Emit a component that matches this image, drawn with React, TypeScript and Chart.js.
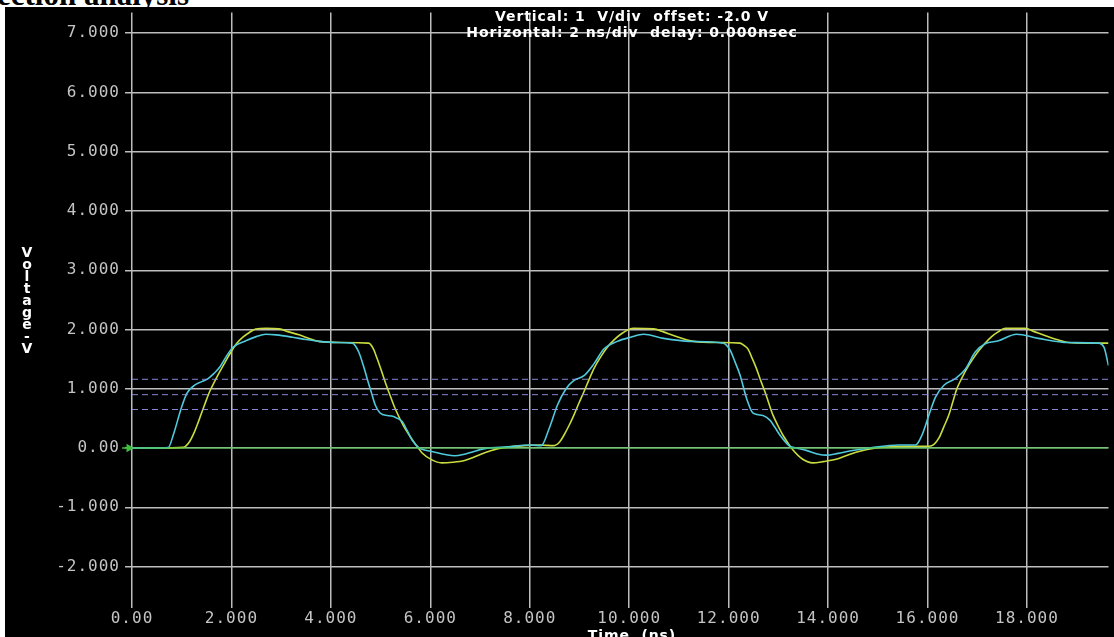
import React, { useEffect, useRef } from "react";
import { Chart, registerables } from "chart.js";

Chart.register(...registerables);

// axis ranges and ticks
const xMin = 0;
const xMax = 19.64;
const yMin = -2.7;
const yMax = 7.35;
const xTicks = [0, 2, 4, 6, 8, 10, 12, 14, 16, 18];
const xTickLabels = ["0.00", "2.000", "4.000", "6.000", "8.000", "10.000", "12.000", "14.000", "16.000", "18.000"];
const yTicks = [-2, -1, 0, 1, 2, 3, 4, 5, 6, 7];
const yTickLabels = ["-2.000", "-1.000", "0.00", "1.000", "2.000", "3.000", "4.000", "5.000", "6.000", "7.000"];

// threshold markers (dashed) and ground reference
const thresholdLevels = [1.16, 0.9, 0.65];
const groundLevel = 0;

// traces: [time ns, volts]
const cyanTrace: [number, number][] = [
  [0, 0], [0.4, 0], [0.73, 0.01], [0.83, 0.22], [0.99, 0.67], [1.1, 0.92], [1.26, 1.06], [1.4, 1.12],
  [1.53, 1.17], [1.65, 1.26], [1.77, 1.37], [1.9, 1.55], [2.03, 1.7], [2.29, 1.81], [2.5, 1.88],
  [2.69, 1.92], [2.9, 1.91], [3.23, 1.87], [3.5, 1.83], [3.76, 1.8], [4.1, 1.78], [4.43, 1.77],
  [4.56, 1.62], [4.65, 1.4], [4.73, 1.17], [4.81, 0.95], [4.89, 0.73], [4.98, 0.6], [5.06, 0.56],
  [5.26, 0.53], [5.43, 0.45], [5.53, 0.3], [5.63, 0.14], [5.76, 0.01], [5.83, -0.02], [6.09, -0.07],
  [6.3, -0.11], [6.49, -0.13], [6.66, -0.11], [6.83, -0.07], [7.09, -0.01], [7.56, 0.02], [8.03, 0.05],
  [8.23, 0.04], [8.39, 0.33], [8.56, 0.73], [8.73, 1.0], [8.89, 1.14], [9.09, 1.22], [9.29, 1.42],
  [9.49, 1.67], [9.76, 1.8], [10.03, 1.87], [10.29, 1.92], [10.69, 1.85], [11.23, 1.8], [11.89, 1.77],
  [12.03, 1.65], [12.13, 1.45], [12.23, 1.23], [12.36, 0.84], [12.49, 0.59], [12.69, 0.55],
  [12.83, 0.47], [12.93, 0.35], [13.03, 0.22], [13.23, 0.03], [13.36, 0.0], [13.56, -0.04],
  [13.83, -0.11], [13.96, -0.12], [14.2, -0.09], [14.43, -0.05], [14.83, 0.0], [15.43, 0.05],
  [15.76, 0.05], [15.89, 0.22], [16.03, 0.56], [16.16, 0.86], [16.33, 1.06], [16.56, 1.17],
  [16.76, 1.33], [16.96, 1.62], [17.16, 1.76], [17.43, 1.81], [17.79, 1.92], [18.23, 1.85],
  [18.83, 1.78], [19.43, 1.77], [19.55, 1.7], [19.64, 1.39],
];

const yellowTrace: [number, number][] = [
  [0, 0], [0.5, 0], [1.03, 0.01], [1.16, 0.11], [1.26, 0.28], [1.36, 0.5], [1.46, 0.73], [1.56, 0.95],
  [1.66, 1.12], [1.76, 1.28], [1.88, 1.46], [1.99, 1.62], [2.1, 1.76], [2.23, 1.87], [2.36, 1.95],
  [2.49, 2.01], [2.7, 2.02], [2.96, 2.01], [3.15, 1.96], [3.36, 1.91], [3.56, 1.85], [3.76, 1.8],
  [4.2, 1.78], [4.76, 1.77], [4.85, 1.68], [4.93, 1.51], [5.01, 1.32], [5.09, 1.12], [5.19, 0.89],
  [5.29, 0.67], [5.39, 0.49], [5.49, 0.33], [5.63, 0.15], [5.76, 0.0], [5.83, -0.08], [6.03, -0.2],
  [6.23, -0.25], [6.45, -0.24], [6.69, -0.21], [6.86, -0.16], [7.03, -0.1], [7.2, -0.05], [7.36, -0.01],
  [7.89, 0.04], [8.2, 0.05], [8.49, 0.04], [8.6, 0.1], [8.69, 0.22], [8.79, 0.38], [8.89, 0.56],
  [8.99, 0.76], [9.09, 0.95], [9.19, 1.15], [9.29, 1.34], [9.42, 1.53], [9.56, 1.7], [9.69, 1.82],
  [9.83, 1.92], [10.09, 2.02], [10.49, 2.01], [10.69, 1.96], [10.89, 1.9], [11.29, 1.8], [11.8, 1.78],
  [12.23, 1.77], [12.31, 1.73], [12.39, 1.67], [12.47, 1.52], [12.56, 1.34], [12.64, 1.15],
  [12.73, 0.95], [12.81, 0.75], [12.89, 0.56], [12.99, 0.38], [13.09, 0.22], [13.19, 0.09],
  [13.29, -0.03], [13.49, -0.19], [13.69, -0.25], [13.9, -0.23], [14.16, -0.19], [14.36, -0.13],
  [14.56, -0.07], [14.96, 0.0], [15.63, 0.03], [16.03, 0.03], [16.13, 0.06], [16.23, 0.17],
  [16.33, 0.36], [16.43, 0.56], [16.51, 0.78], [16.59, 1.0], [16.69, 1.18], [16.79, 1.34],
  [16.91, 1.5], [17.03, 1.64], [17.16, 1.77], [17.29, 1.88], [17.42, 1.96], [17.56, 2.02],
  [17.96, 2.02], [18.16, 1.96], [18.36, 1.9], [18.6, 1.83], [18.83, 1.78], [19.2, 1.77], [19.64, 1.77],
];

// small arrow on the ground level, just left of the axis
const groundArrow: [number, number][] = [[-0.2, 0], [-0.06, 0]];

const CYAN = "#4fc9dc";
const YELLOW = "#c9dc3e";
const GREEN = "#3cbf3c";
const GRID = "#bdbdbd";
const TICK = "#c4c4c4";

const toPoints = (pairs: [number, number][]) => pairs.map(([x, y]) => ({ x, y }));

const tickSpacing = {
  id: "tickSpacing",
  beforeDraw(chart: any) {
    chart.ctx.letterSpacing = "1px";
  },
  afterDraw(chart: any) {
    chart.ctx.letterSpacing = "0px";
  },
};

const ScopeChart: React.FC = () => {
  const canvasRef = useRef<HTMLCanvasElement | null>(null);
  const chartRef = useRef<Chart | null>(null);

  useEffect(() => {
    if (!canvasRef.current) return;
    if (chartRef.current) chartRef.current.destroy();

    const thresholdSets = thresholdLevels.map((level) => ({
      data: [{ x: xMin, y: level }, { x: xMax, y: level }],
      borderColor: "rgba(150,150,235,0.9)",
      borderWidth: 1,
      borderDash: [6, 4],
      pointRadius: 0,
      showLine: true,
    }));

    chartRef.current = new Chart(canvasRef.current, {
      type: "scatter",
      data: {
        datasets: [
          {
            data: [{ x: xMin, y: groundLevel }, { x: xMax, y: groundLevel }],
            borderColor: GREEN,
            borderWidth: 1.2,
            pointRadius: 0,
            showLine: true,
          },
          ...thresholdSets,
          {
            data: toPoints(cyanTrace),
            borderColor: CYAN,
            borderWidth: 1.6,
            pointRadius: 0,
            showLine: true,
            cubicInterpolationMode: "monotone",
          },
          {
            data: toPoints(yellowTrace),
            borderColor: YELLOW,
            borderWidth: 1.6,
            pointRadius: 0,
            showLine: true,
            cubicInterpolationMode: "monotone",
          },
          {
            data: toPoints(groundArrow),
            borderColor: GREEN,
            backgroundColor: GREEN,
            borderWidth: 1.5,
            showLine: true,
            clip: false,
            pointRadius: [0, 3.5],
            pointStyle: "triangle",
            rotation: 90,
          },
        ] as any,
      },
      options: {
        animation: false,
        responsive: true,
        maintainAspectRatio: false,
        events: [],
        layout: { padding: 0 },
        plugins: {
          legend: { display: false },
          tooltip: { enabled: false },
        },
        scales: {
          x: {
            type: "linear",
            min: xMin,
            max: xMax,
            afterBuildTicks: (scale: any) => {
              scale.ticks = xTicks.map((value) => ({ value }));
            },
            afterFit: (scale: any) => {
              scale.height = 29;
              scale.paddingLeft = 0;
              scale.paddingRight = 0;
            },
            ticks: {
              callback: (value: any) => xTickLabels[xTicks.indexOf(Number(value))] ?? "",
              color: TICK,
              font: { family: "DejaVu Sans Mono", size: 16 },
              padding: 1,
              maxRotation: 0,
              autoSkip: false,
            },
            grid: { color: GRID, lineWidth: 1.5, drawTicks: false },
            border: { display: false },
          },
          y: {
            type: "linear",
            min: yMin,
            max: yMax,
            afterBuildTicks: (scale: any) => {
              scale.ticks = yTicks.map((value) => ({ value }));
            },
            afterFit: (scale: any) => {
              scale.width = 127;
              scale.paddingTop = 0;
              scale.paddingBottom = 0;
            },
            ticks: {
              callback: (value: any) => yTickLabels[yTicks.indexOf(Number(value))] ?? "",
              color: TICK,
              font: { family: "DejaVu Sans Mono", size: 16 },
              padding: 5,
              autoSkip: false,
            },
            grid: { color: GRID, lineWidth: 1.5, drawTicks: true, tickLength: 7 },
            border: { display: false },
          },
        },
      },
      plugins: [tickSpacing],
    });

    return () => {
      if (chartRef.current) {
        chartRef.current.destroy();
        chartRef.current = null;
      }
    };
  }, []);

  return <canvas ref={canvasRef}></canvas>;
};

const headerStyle: React.CSSProperties = {
  position: "absolute",
  color: "#ffffff",
  fontFamily: "DejaVu Sans",
  fontWeight: "bold",
  fontSize: 14,
  letterSpacing: 0.9,
  textAlign: "center",
  whiteSpace: "pre",
};

const App: React.FC = () => {
  return (
    <div
      style={{
        position: "fixed",
        left: 0,
        top: 0,
        width: 1114,
        height: 637,
        background: "#ffffff",
        overflow: "hidden",
      }}
    >
      <div
        style={{
          position: "absolute",
          left: -3,
          top: -20,
          fontFamily: "Liberation Serif",
          fontWeight: "bold",
          fontSize: 31,
          lineHeight: "30px",
          whiteSpace: "nowrap",
          color: "#000",
        }}
      >
        ection analysis
      </div>
      <div
        style={{
          position: "absolute",
          left: 5,
          top: 7,
          width: 1109,
          height: 630,
          background: "#000000",
        }}
      >
        <ScopeChart />
      </div>
      <div style={{ ...headerStyle, left: 332, width: 600, top: 9, lineHeight: "15.5px" }}>
        {"Vertical: 1  V/div  offset: -2.0 V\nHorizontal: 2 ns/div  delay: 0.000nsec"}
      </div>
      <div style={{ ...headerStyle, left: 532, width: 200, top: 628, lineHeight: "15px" }}>
        Time  (ns)
      </div>
      <div
        style={{
          position: "absolute",
          left: 19,
          top: 244,
          color: "#ffffff",
          fontFamily: "DejaVu Sans",
          fontWeight: "bold",
          fontSize: 14,
          letterSpacing: -4,
          lineHeight: "16px",
          writingMode: "vertical-rl",
          textOrientation: "upright",
        }}
      >
        Voltage-V
      </div>
    </div>
  );
};

export default App;
